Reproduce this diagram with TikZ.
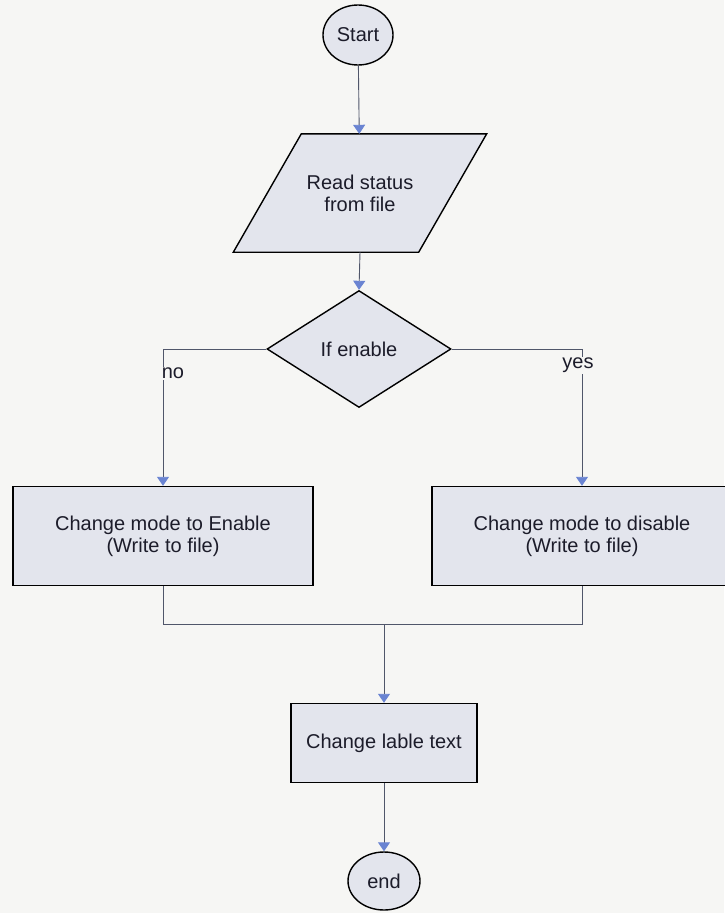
\documentclass[tikz,border=0pt]{standalone}
\usepackage{fontspec}
\setmainfont{Liberation Sans}
\usepackage{xcolor}
\usetikzlibrary{arrows.meta,shapes.geometric,backgrounds}
\definecolor{paper}{HTML}{F6F6F4}
\definecolor{boxfill}{HTML}{E3E5ED}
\definecolor{tipblue}{HTML}{6A84D2}
\definecolor{wire}{HTML}{50566A}
\definecolor{ink}{HTML}{1C1C2A}

\begin{document}
\begin{tikzpicture}[x=1pt,y=-1pt,
  every node/.style={font=\fontsize{20}{22}\selectfont,text=ink,align=center},
  shp/.style={draw=black,line width=1.4pt,fill=boxfill,inner sep=0pt},
  flow/.style={draw=wire,line width=0.9pt,-{Triangle[width=12pt,length=9pt,color=tipblue]}},
  link/.style={draw=wire,line width=0.9pt}]
\useasboundingbox (0,0) rectangle (724,913);
\node[shp,ellipse,minimum width=70pt,minimum height=60pt] (start) at (358,35) {Start};
\node[inner sep=0pt,minimum width=185pt,minimum height=118pt] (read) at (360,193) {Read status\\from file};
\node[shp,diamond,minimum width=184pt,minimum height=117pt] (cond) at (359,349) {If enable};
\node[shp,minimum width=300pt,minimum height=99pt] (en) at (163,536) {Change mode to Enable\\(Write to file)};
\node[shp,minimum width=300pt,minimum height=99pt] (dis) at (582,536) {Change mode to disable\\(Write to file)};
\node[shp,minimum width=186pt,minimum height=79pt] (lbl) at (384,743) {Change lable text};
\node[shp,ellipse,minimum width=72pt,minimum height=58pt] (stop) at (384,881) {end};
\coordinate (mrg) at (384,624);
% paper and the slanted input box go behind the text
\begin{scope}[on background layer]
\fill[paper] (0,0) rectangle (724,913);
\draw[shp] ([xshift=34pt]read.north west) -- ([xshift=34pt]read.north east)
  -- ([xshift=-34pt]read.south east) -- ([xshift=-34pt]read.south west) -- cycle;
\end{scope}
\draw[flow] (start) -- (read);
\draw[flow] (read.south) -- (cond.north);
\draw[flow] (cond.west) -| (en.north) node[pos=0.59,xshift=10pt,fill=paper,inner sep=1pt] {no};
\draw[flow] (cond.east) -| (dis.north) node[pos=0.56,xshift=-4pt,fill=paper,inner sep=1pt] {yes};
\draw[link] (en.south) |- (mrg);
\draw[link] (dis.south) |- (mrg);
\draw[flow] (mrg) -- (lbl.north);
\draw[flow] (lbl) -- (stop);
\end{tikzpicture}
\end{document}
